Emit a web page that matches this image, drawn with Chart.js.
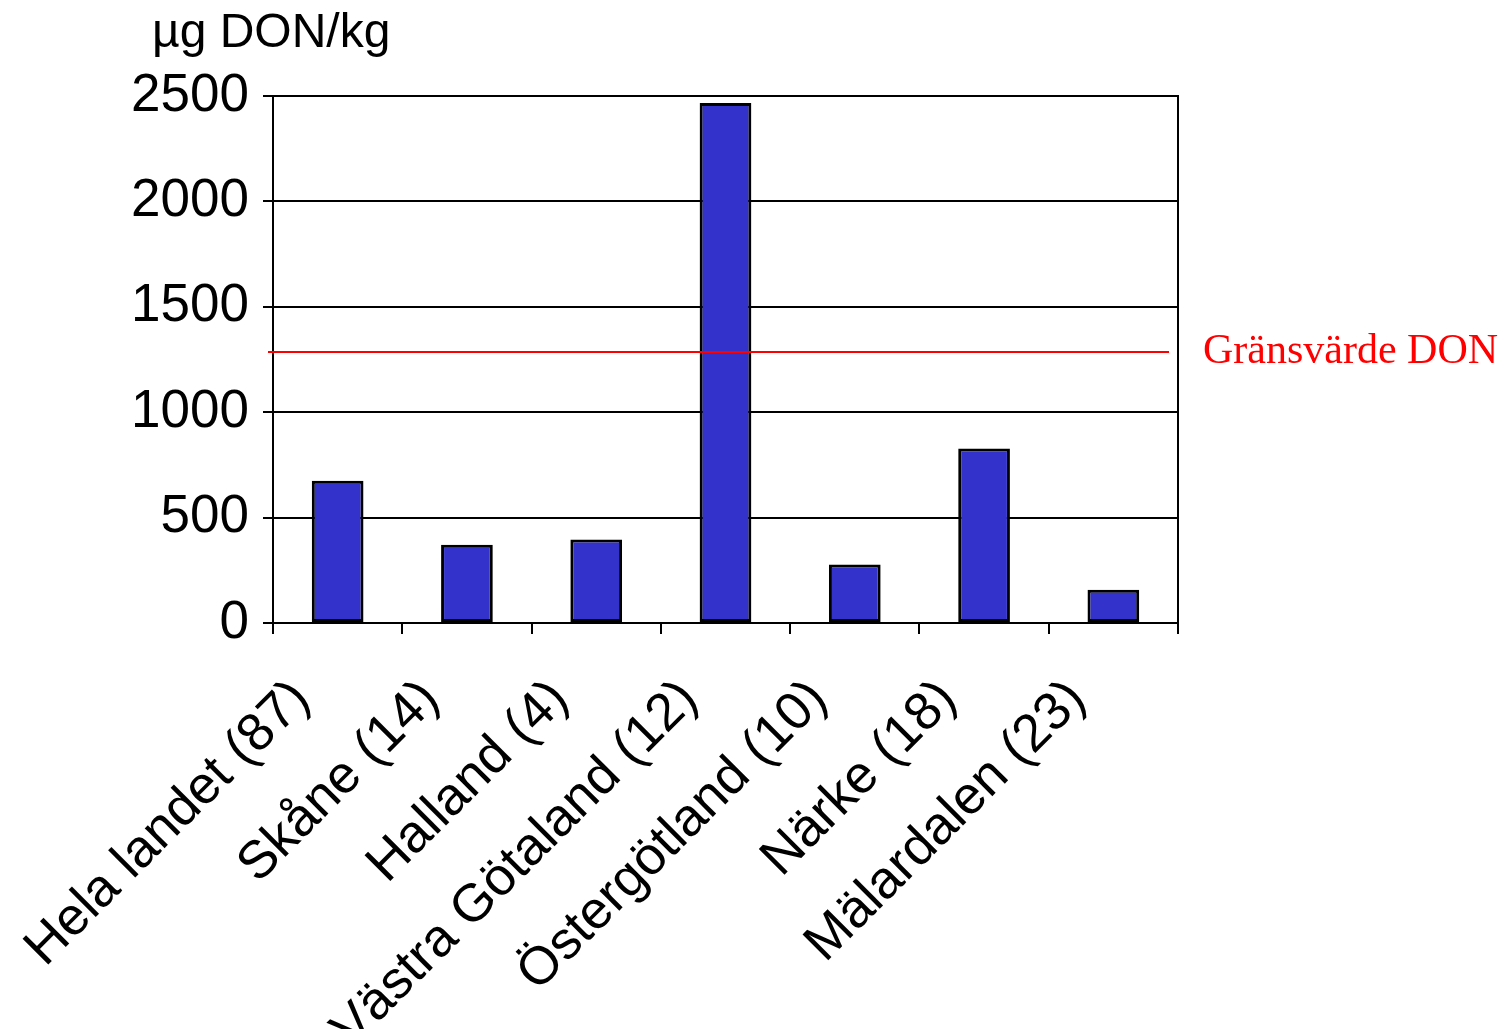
<!DOCTYPE html>
<html>
<head>
<meta charset="utf-8">
<script src="https://cdn.jsdelivr.net/npm/chart.js@4/dist/chart.umd.min.js"></script>
<style>
html,body{margin:0;padding:0;background:#fff;}
#wrap{position:relative;width:1505px;height:1029px;}
</style>
</head>
<body>
<div id="wrap"><canvas id="c" width="1505" height="1029"></canvas></div>
<script>
const categories = ["Hela landet (87)", "Skåne (14)", "Halland (4)", "Västra Götaland (12)", "Östergötland (10)", "Närke (18)", "Mälardalen (23)"];
const donValues = [675, 371, 396, 2467, 277, 828, 158];
const limitValue = 1285;
const limitLabel = "Gränsvärde DON";
const unitLabel = "µg DON/kg";
const yTicks = [0, 500, 1000, 1500, 2000, 2500];

const extras = {
  id: 'extras',
  afterDraw(chart) {
    const ctx = chart.ctx;
    const a = chart.chartArea;
    const y = chart.scales.y.getPixelForValue(limitValue);
    ctx.save();
    ctx.strokeStyle = '#000';
    ctx.lineWidth = 2;
    ctx.beginPath();
    ctx.moveTo(a.right, a.top - 1);
    ctx.lineTo(a.right, a.bottom + 1);
    ctx.stroke();
    ctx.strokeStyle = '#FF0000';
    ctx.lineWidth = 2;
    ctx.beginPath();
    ctx.moveTo(a.left - 5, y);
    ctx.lineTo(a.right - 9, y);
    ctx.stroke();
    ctx.fillStyle = '#FF0000';
    ctx.font = '42px "Liberation Serif", "Times New Roman", serif';
    ctx.textAlign = 'left';
    ctx.textBaseline = 'middle';
    ctx.fillText(limitLabel, a.right + 25, y);
    ctx.fillStyle = '#000';
    ctx.font = '48px "Liberation Sans", Arial, sans-serif';
    ctx.textBaseline = 'alphabetic';
    ctx.fillText(unitLabel, 152, 47);
    ctx.restore();
  }
};

new Chart(document.getElementById('c'), {
  type: 'bar',
  data: {
    labels: categories,
    datasets: [{
      data: donValues,
      backgroundColor: '#3333CC',
      borderColor: '#000000',
      borderWidth: 3,
      borderSkipped: false,
      categoryPercentage: 1.0,
      barPercentage: 0.40
    }]
  },
  options: {
    responsive: false,
    animation: false,
    devicePixelRatio: 1,
    layout: { padding: { left: 0, top: 96, right: 327, bottom: 0 } },
    plugins: { legend: { display: false }, tooltip: { enabled: false }, title: { display: false } },
    scales: {
      x: {
        grid: { display: true, drawOnChartArea: false, drawTicks: true, tickLength: 11, color: '#000', lineWidth: 2, offset: true },
        border: { display: true, color: '#000', width: 2 },
        ticks: {
          autoSkip: false, minRotation: 45, maxRotation: 45, padding: 34, labelOffset: -36,
          color: '#000',
          font: { family: '"Liberation Sans", Arial, sans-serif', size: 53 }
        },
        afterFit(s) { s.height = 406; s.paddingLeft = 0; s.paddingRight = 0; s.paddingTop = 0; s.paddingBottom = 0; }
      },
      y: {
        min: 0, max: 2500,
        afterBuildTicks(s) { s.ticks = yTicks.map(v => ({ value: v })); },
        grid: { color: '#000', lineWidth: 2, drawTicks: true, tickLength: 10 },
        border: { display: true, color: '#000', width: 2 },
        ticks: {
          padding: 14, color: '#000',
          callback: (v) => String(v),
          font: { family: '"Liberation Sans", Arial, sans-serif', size: 53 }
        },
        afterFit(s) { s.width = 273; s.paddingTop = 0; s.paddingBottom = 0; }
      }
    }
  },
  plugins: [extras]
});
</script>
</body>
</html>
